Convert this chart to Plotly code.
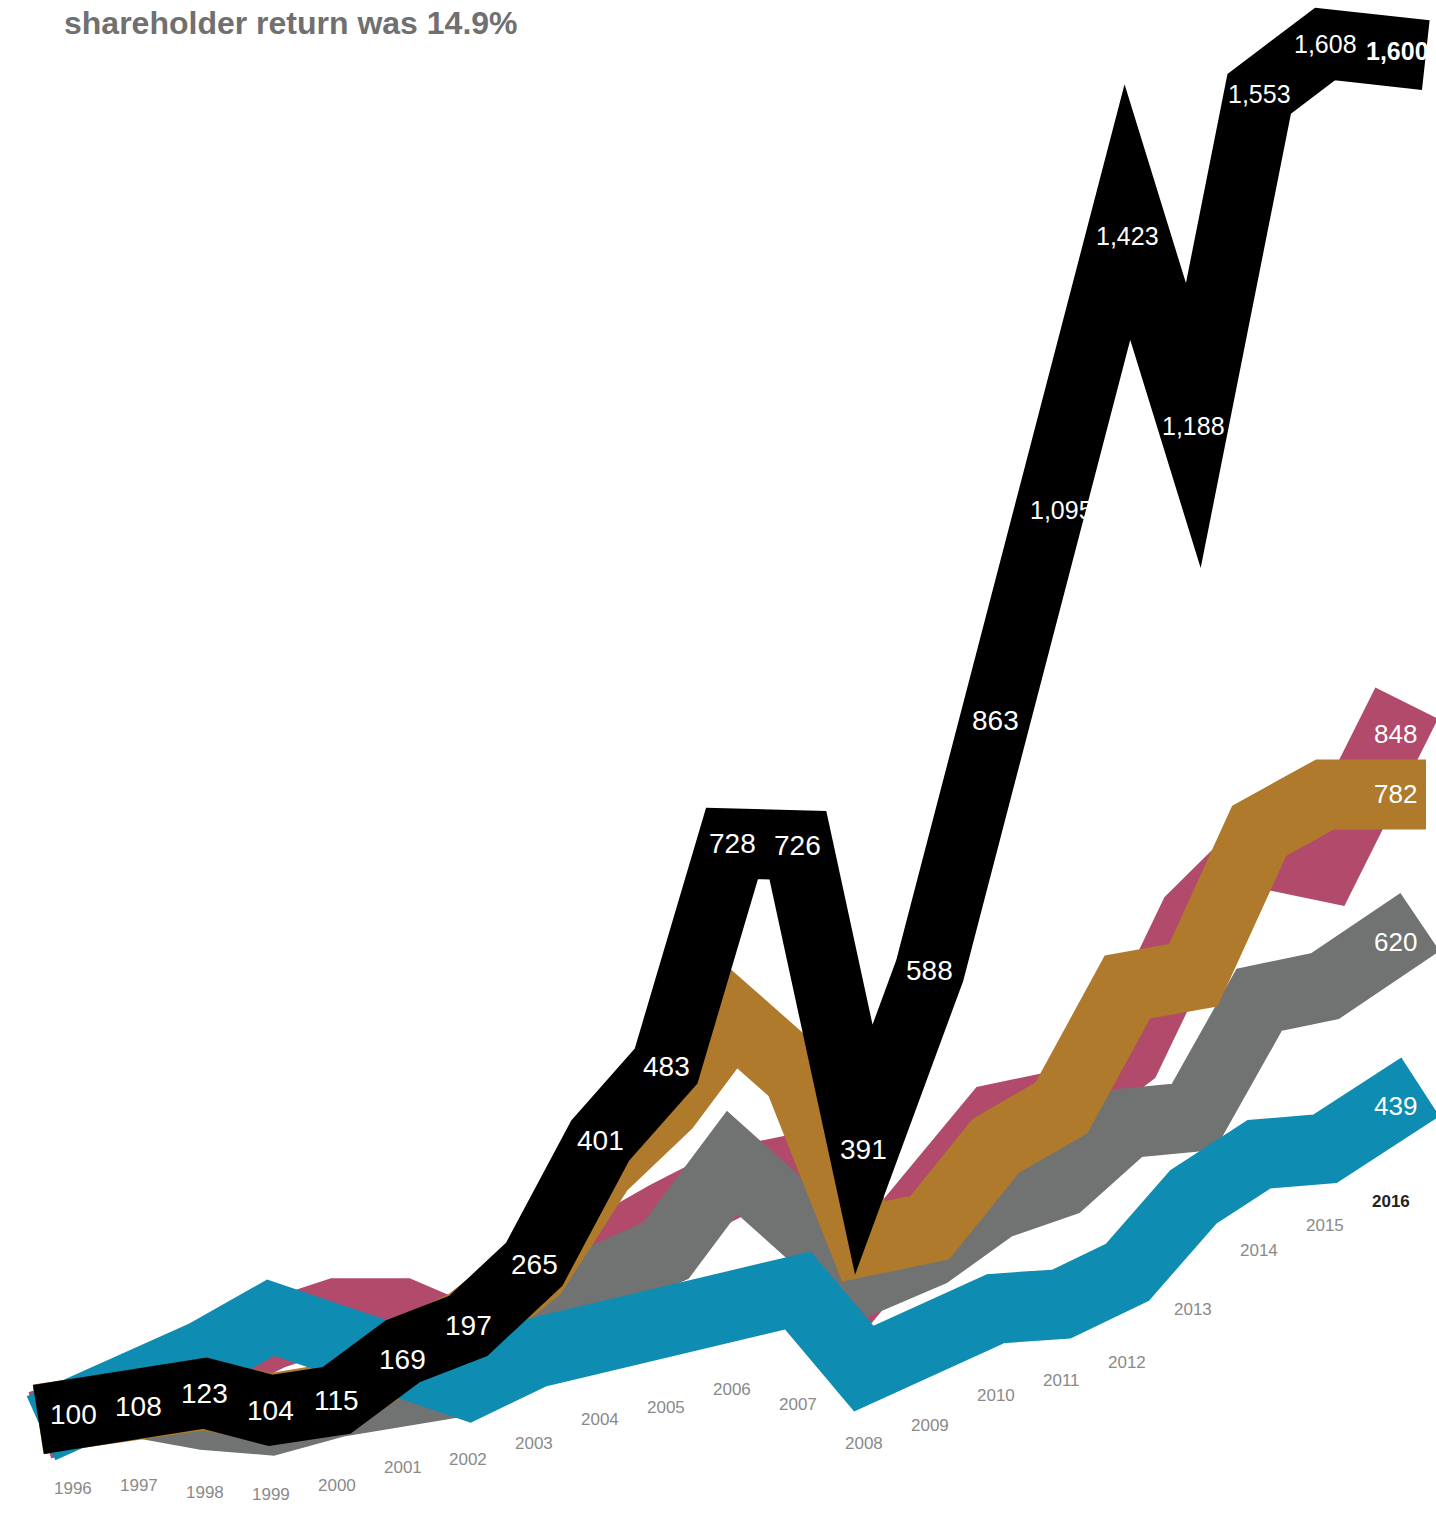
import plotly.graph_objects as go

# ---------------- data ----------------
years = list(range(1996, 2017))

company = [100, 108, 123, 104, 115, 169, 197, 265, 401, 483, 728, 726, 391, 588,
           863, 1095, 1423, 1188, 1553, 1608, 1600]
peer_pink = [100, 120, 150, 187, 211, 211, 180, 235, 285, 318, 355, 370, 250, 352,
             425, 440, 495, 646, 718, 703, 848]
peer_gold = [100, 110, 121, 106, 118, 165, 200, 258, 371, 440, 537, 473, 290, 305,
             395, 437, 570, 583, 742, 782, 782]
peer_gray = [100, 112, 99, 93, 113, 134, 137, 215, 250, 280, 377, 318, 247, 278,
             330, 355, 420, 427, 556, 571, 620]
peer_blue = [100, 126, 165, 206, 185, 162, 132, 167, 184, 194, 223, 236, 150, 189,
             216, 221, 256, 339, 386, 392, 439]

title_text = "shareholder return was 14.9%"

# ---------------- styles ----------------
W, H = 1436, 1517
RIBBON = 70
colors = {
    "pink": "#b24a6b",
    "gold": "#af7a2b",
    "gray": "#717372",
    "blue": "#0e8cb1",
    "black": "#000000",
}
# drawing order bottom -> top
layers = [
    ("pink", peer_pink),
    ("gray", peer_gray),
    ("gold", peer_gold),
    ("blue", peer_blue),
    ("black", company),
]

fig = go.Figure()
for name, vals in layers:
    fig.add_trace(go.Scatter(
        x=years, y=vals, mode="lines",
        line=dict(color=colors[name], width=RIBBON),
        hoverinfo="skip", showlegend=False,
    ))

FONT = "Liberation Sans, Arial, Helvetica, sans-serif"
annotations = []

# company value labels (white, inside the black ribbon)
label_shift = {2016: (6, 0), 2012: (0, -24), 2001: (0, -8)}
for yr, v in zip(years, company):
    txt = f"{v:,}"
    size = 25 if v >= 1000 else 28
    xs, ys = label_shift.get(yr, (0, 0))
    annotations.append(dict(
        x=yr, y=v, text=f"<b>{txt}</b>" if yr == years[-1] else txt,
        showarrow=False, xshift=xs, yshift=ys,
        font=dict(family=FONT, size=size, color="white"),
    ))

# end labels of peers
for name, vals in layers[:-1]:
    annotations.append(dict(
        x=years[-1], y=vals[-1], text=f"{vals[-1]:,}", showarrow=False,
        xshift=4, font=dict(family=FONT, size=26, color="white"),
    ))

# year labels below the lowest ribbon
allv = [s for _, s in layers]
low = [min(s[i] for s in allv) for i in range(len(years))]
for i, yr in enumerate(years):
    cand = [low[i]]
    if i > 0:
        cand.append((low[i] + low[i - 1]) / 2)
    if i < len(years) - 1:
        cand.append((low[i] + low[i + 1]) / 2)
    ylab = min(cand) - 82
    last = (i == len(years) - 1)
    annotations.append(dict(
        x=yr, y=ylab, text=f"<b>{yr}</b>" if last else str(yr), showarrow=False,
        font=dict(family=FONT, size=17, color="#222222" if last else "#8a8a8a"),
    ))

annotations.append(dict(
    xref="paper", yref="paper", x=62 / W, y=1 - 23 / H, xanchor="left", yanchor="middle",
    text=f"<b>{title_text}</b>", showarrow=False,
    font=dict(family=FONT, size=32, color="#707070"),
))

px_per_year = 65.9
x0_px = 73
xmin = 1996 - x0_px / px_per_year
xmax = xmin + W / px_per_year

px_per_unit = 0.9085
y100_px = 1414
ymax = 100 + y100_px / px_per_unit
ymin = ymax - H / px_per_unit

fig.update_layout(
    width=W, height=H,
    margin=dict(l=0, r=0, t=0, b=0),
    paper_bgcolor="white", plot_bgcolor="white",
    xaxis=dict(visible=False, range=[xmin, xmax], fixedrange=True),
    yaxis=dict(visible=False, range=[ymin, ymax], fixedrange=True),
    annotations=annotations,
    showlegend=False,
)

post = """
var s = document.createElement('style');
s.textContent = '.js-line{stroke-linejoin:miter !important;stroke-miterlimit:12 !important;stroke-linecap:square !important;}';
document.head.appendChild(s);
"""
fig.write_html("out.html", post_script=post, config={"displayModeBar": False})
